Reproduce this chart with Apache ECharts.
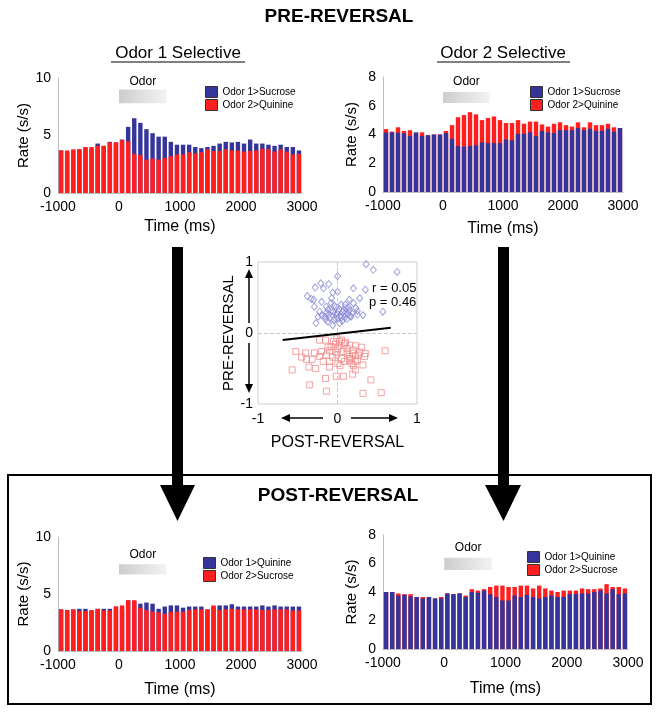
<!DOCTYPE html>
<html><head><meta charset="utf-8">
<script src="https://cdn.jsdelivr.net/npm/echarts@6/dist/echarts.min.js"></script>
<style>html,body{margin:0;padding:0;background:#fff}#c{width:656px;height:712px}</style>
</head><body><div id="c"></div>
<script>
// ---- data ----
const bins = [-950,-850,-750,-650,-550,-450,-350,-250,-150,-50,50,150,250,350,450,550,650,750,850,950,1050,1150,1250,1350,1450,1550,1650,1750,1850,1950,2050,2150,2250,2350,2450,2550,2650,2750,2850,2950];
const xTicks = [-1000, 0, 1000, 2000, 3000];
const odorWindow = [0, 780];

// Pre-reversal, Odor 1 selective
const p1Odor1Sucrose = [3.7,3.6,3.7,3.8,3.9,3.8,4.3,4.1,4.45,4.4,4.65,5.75,6.5,6.1,5.55,5.2,4.9,4.9,4.45,4.2,4.2,4.2,4.0,3.9,4.0,4.1,4.3,4.45,4.4,4.45,4.3,4.65,4.3,4.3,4.2,4.1,4.2,4.0,4.0,3.7];
const p1Odor2Quinine = [3.7,3.7,3.8,3.8,4.0,4.0,4.1,4.1,4.4,4.4,4.6,4.5,3.4,3.3,2.9,3.0,2.9,3.05,3.2,3.35,3.35,3.55,3.45,3.55,3.8,3.65,3.65,3.8,3.7,3.7,3.6,3.65,3.7,3.85,3.8,3.6,3.8,3.6,3.35,3.4];
// Pre-reversal, Odor 2 selective
const p2Odor1Sucrose = [4.13,4.15,4.13,4.08,3.9,4.15,3.9,3.95,4.0,4.0,4.1,3.7,3.2,3.15,3.2,3.25,3.45,3.4,3.4,3.4,3.65,3.6,4.05,4.05,4.15,3.9,4.25,4.15,4.1,4.3,4.3,4.3,4.45,4.3,4.4,4.25,4.25,4.4,4.2,4.45];
const p2Odor2Quinine = [4.38,4.2,4.5,4.25,4.3,4.1,4.15,3.95,4.0,4.0,4.25,4.65,5.2,5.35,5.55,5.4,5.0,5.15,5.25,5.0,4.8,4.8,5.0,4.75,4.9,4.9,4.7,4.55,4.75,4.85,4.65,4.55,4.85,4.5,4.85,4.65,4.65,4.75,4.5,4.45];
// Post-reversal, Odor 1 selective
const p3Odor1Quinine = [3.65,3.6,3.65,3.7,3.7,3.5,3.7,3.7,3.7,3.9,3.7,4.45,4.4,4.15,4.25,4.15,3.7,3.9,4.0,4.0,3.8,3.9,3.9,3.9,3.65,3.9,4.0,4.0,4.1,3.9,3.9,3.9,3.9,4.0,3.9,4.0,3.9,3.9,3.9,3.9];
const p3Odor2Sucrose = [3.65,3.6,3.65,3.5,3.5,3.6,3.7,3.55,3.55,3.9,4.0,4.45,4.45,3.8,3.6,3.45,3.4,3.25,3.45,3.45,3.45,3.6,3.65,3.65,3.65,4.0,3.6,3.65,3.7,3.65,3.65,3.65,3.65,3.6,3.6,3.65,3.65,3.65,3.55,3.55];
// Post-reversal, Odor 2 selective
const p4Odor1Quinine = [4.0,4.0,3.75,3.8,3.7,3.65,3.55,3.65,3.55,3.55,3.9,3.85,3.9,3.65,4.0,3.95,4.1,3.85,3.65,3.4,3.4,3.75,3.65,3.8,3.65,3.55,3.65,3.75,3.65,3.65,3.85,3.85,3.9,3.9,4.0,4.1,3.9,4.2,3.85,3.9];
const p4Odor2Sucrose = [4.0,4.0,3.9,3.85,3.85,3.65,3.65,3.65,3.55,3.65,3.9,3.85,3.9,3.75,4.2,4.1,4.2,4.35,4.45,4.45,4.35,4.35,4.45,4.45,4.25,4.45,4.25,4.1,4.0,4.1,4.1,4.1,4.25,4.2,4.2,4.25,4.55,4.35,4.35,4.25];

// Scatter: selectivity pre vs post reversal
const odor1Cells = [[0.36,0.97],[0.45,0.89],[0.75,0.86],[0.0,0.80],[-0.21,0.70],[-0.11,0.69],[-0.28,0.64],[-0.175,0.63],[0.20,0.63],[0.35,0.61],[0.0,0.58],[-0.06,0.57],[-0.38,0.52],[-0.30,0.47],[-0.20,0.44],[-0.075,0.49],[0.15,0.47],[0.28,0.49],[0.046,0.40],[-0.29,0.37],[-0.14,0.37],[-0.04,0.39],[0.02,0.34],[0.11,0.35],[0.15,0.32],[0.23,0.35],[-0.225,0.30],[-0.14,0.28],[-0.08,0.31],[-0.017,0.26],[0.067,0.29],[0.13,0.26],[0.25,0.26],[0.32,0.25],[-0.10,0.21],[0.0,0.21],[0.09,0.22],[0.17,0.23],[-0.27,0.14],[-0.12,0.16],[-0.06,0.11],[0.025,0.14],[0.57,0.30],[-0.16,0.23],[-0.245,0.23],[-0.04,0.18],[-0.05,0.30],[0.0,0.27],[0.05,0.22],[-0.12,0.33],[0.08,0.32],[0.12,0.20],[-0.02,0.36],[0.03,0.24],[0.18,0.28],[-0.20,0.25],[0.10,0.40],[-0.08,0.42],[0.20,0.42],[0.06,0.17],[-0.15,0.19],[0.14,0.36],[-0.03,0.21],[0.25,0.31],[-0.33,0.48],[0.09,0.27],[-0.11,0.26],[0.01,0.31],[0.16,0.24]];
const odor2Cells = [[-0.225,-0.10],[-0.15,-0.10],[-0.008,-0.08],[0.025,-0.12],[-0.025,-0.155],[0.09,-0.15],[0.15,-0.17],[0.23,-0.18],[0.30,-0.20],[-0.08,-0.19],[0.004,-0.22],[-0.10,-0.25],[-0.525,-0.26],[-0.40,-0.28],[-0.29,-0.28],[-0.20,-0.26],[0.12,-0.28],[0.19,-0.29],[0.35,-0.29],[0.60,-0.25],[-0.14,-0.31],[-0.008,-0.31],[0.15,-0.33],[0.225,-0.32],[0.34,-0.33],[-0.39,-0.37],[-0.32,-0.37],[-0.225,-0.33],[-0.10,-0.40],[0.004,-0.43],[0.09,-0.40],[0.15,-0.39],[0.225,-0.40],[0.32,-0.45],[-0.57,-0.52],[-0.36,-0.48],[-0.275,-0.50],[-0.10,-0.48],[0.03,-0.46],[0.20,-0.46],[0.225,-0.52],[0.19,-0.58],[-0.15,-0.64],[-0.017,-0.61],[0.075,-0.61],[0.42,-0.66],[-0.35,-0.73],[-0.14,-0.82],[0.32,-0.85],[0.55,-0.84],[-0.45,-0.34],[0.26,-0.31],[0.05,-0.10],[0.10,-0.13],[-0.05,-0.12],[0.02,-0.18],[0.12,-0.22],[0.20,-0.24],[-0.12,-0.20],[0.07,-0.26],[-0.02,-0.27],[0.16,-0.36],[0.05,-0.36],[-0.06,-0.34],[0.25,-0.38],[0.18,-0.43],[0.28,-0.27],[-0.18,-0.40]];
const regressionLine = [[-0.69,-0.10],[0.67,0.075]];
const statsText = ['r = 0.05', 'p = 0.46'];

// ---- styling ----
const FONT = '"Liberation Sans", Arial, sans-serif';
const BLUE = '#34349a';
const RED = '#ff1f1f';
const odorGrad = new echarts.graphic.LinearGradient(0,0,1,0,[{offset:0,color:'#cdcdcd'},{offset:1,color:'#f3f3f3'}]);

const panels = [
  {grid:{left:58, top:78, width:244, height:115}, ymax:10, yint:5, odorY:[7.8,9.0], labelDist:2, nameGapX:26,
   s:[{name:'Odor 1>Sucrose', data:p1Odor1Sucrose, color:BLUE},{name:'Odor 2>Quinine', data:p1Odor2Quinine, color:RED}],
   legendPos:{left:205, top:86}},
  {grid:{left:383, top:77, width:240, height:115}, ymax:8, yint:2, odorY:[6.2,6.95], labelDist:4, nameGapX:29,
   s:[{name:'Odor 2>Quinine', data:p2Odor2Quinine, color:RED},{name:'Odor 1>Sucrose', data:p2Odor1Sucrose, color:BLUE}],
   legend:['Odor 1>Sucrose','Odor 2>Quinine'], legendPos:{left:530, top:86}},
  {grid:{left:58, top:537, width:244, height:114}, ymax:10, yint:5, odorY:[6.7,7.6], labelDist:4, nameGapX:31,
   s:[{name:'Odor 1>Quinine', data:p3Odor1Quinine, color:BLUE},{name:'Odor 2>Sucrose', data:p3Odor2Sucrose, color:RED}],
   legendPos:{left:203, top:557}},
  {grid:{left:383, top:535, width:245, height:114}, ymax:8, yint:2, odorY:[5.55,6.4], labelDist:4, nameGapX:32,
   s:[{name:'Odor 2>Sucrose', data:p4Odor2Sucrose, color:RED},{name:'Odor 1>Quinine', data:p4Odor1Quinine, color:BLUE}],
   legend:['Odor 1>Quinine','Odor 2>Sucrose'], legendPos:{left:527, top:551}}
];

const grids = [], xAxes = [], yAxes = [], series = [], legends = [];
panels.forEach((p, i) => {
  grids.push(Object.assign({containLabel:false}, p.grid));
  xAxes.push({type:'value', gridIndex:i, min:xTicks[0], max:xTicks[xTicks.length-1], interval:1000,
    axisLine:{show:true, onZero:false, lineStyle:{color:'#bdbdbd'}}, axisTick:{show:false}, splitLine:{show:false},
    axisLabel:{fontSize:14, color:'#000', margin:7, fontFamily:FONT, formatter:v=>String(v)},
    name:'Time (ms)', nameLocation:'middle', nameGap:p.nameGapX, nameTextStyle:{fontSize:16, color:'#000', fontFamily:FONT}});
  yAxes.push({type:'value', gridIndex:i, min:0, max:p.ymax, interval:p.yint,
    axisLine:{show:true, onZero:false, lineStyle:{color:'#bdbdbd'}}, axisTick:{show:false}, splitLine:{show:false},
    axisLabel:{fontSize:14, color:'#000', margin:7, fontFamily:FONT},
    name:'Rate (s/s)', nameLocation:'middle', nameGap:24, nameRotate:90, nameTextStyle:{fontSize:15, color:'#000', fontFamily:FONT}});
  p.s.forEach((s, k) => {
    const ser = {type:'bar', name:s.name, xAxisIndex:i, yAxisIndex:i, barWidth:4.4, barGap:'-100%',
      data: bins.map((b, j) => [b, s.data[j]]), itemStyle:{color:s.color}, silent:true, animation:false};
    if (k === 0) {
      ser.markArea = {silent:true, itemStyle:{color:odorGrad},
        label:{show:true, position:'top', formatter:'Odor', fontSize:12, color:'#000', distance:p.labelDist, fontFamily:FONT},
        data:[[{xAxis:odorWindow[0], yAxis:p.odorY[0]},{xAxis:odorWindow[1], yAxis:p.odorY[1]}]]};
    }
    series.push(ser);
  });
  legends.push(Object.assign({data: p.legend || p.s.map(s=>s.name), orient:'vertical', itemWidth:12, itemHeight:11, itemGap:1,
    icon:'rect', padding:0, selectedMode:false, itemStyle:{borderColor:'#333', borderWidth:1},
    textStyle:{fontSize:10, color:'#000', fontFamily:FONT}}, p.legendPos));
});

// scatter grid
grids.push({left:258, top:262, width:159, height:142, show:true, borderColor:'#cfcfcf', borderWidth:1, backgroundColor:'#fff'});
xAxes.push({type:'value', gridIndex:4, min:-1, max:1, interval:1, axisLine:{show:false, onZero:false}, axisTick:{show:false}, splitLine:{show:false},
  axisLabel:{fontSize:14, color:'#000', margin:8, fontFamily:FONT},
  name:'POST-REVERSAL', nameLocation:'middle', nameGap:31, nameTextStyle:{fontSize:16, color:'#000', fontFamily:FONT}});
yAxes.push({type:'value', gridIndex:4, min:-1, max:1, interval:1, axisLine:{show:false, onZero:false}, axisTick:{show:false}, splitLine:{show:false},
  axisLabel:{fontSize:14, color:'#000', margin:5, fontFamily:FONT},
  name:'PRE-REVERSAL', nameLocation:'middle', nameGap:18, nameRotate:90, nameTextStyle:{fontSize:15, color:'#000', fontFamily:FONT}});
series.push({type:'scatter', xAxisIndex:4, yAxisIndex:4, data:odor1Cells, symbol:'diamond', symbolSize:[6,7], silent:true, animation:false,
  itemStyle:{color:'rgba(255,255,255,0)', borderColor:'#8b8bd6', borderWidth:1},
  markLine:{silent:true, symbol:'none', label:{show:false}, lineStyle:{color:'#c8c8c8', type:'dashed', width:1},
    data:[{xAxis:0},{yAxis:0}]}});
series.push({type:'scatter', xAxisIndex:4, yAxisIndex:4, data:odor2Cells, symbol:'rect', symbolSize:6, silent:true, animation:false,
  itemStyle:{color:'rgba(255,255,255,0)', borderColor:'#f08d8d', borderWidth:1}});
series.push({type:'line', xAxisIndex:4, yAxisIndex:4, data:regressionLine, symbol:'none', silent:true, animation:false,
  lineStyle:{color:'#000', width:2}, z:5});

function txt(text, x, y, font, align) {
  return {type:'text', silent:true, z:20, style:{text:text, x:x, y:y, font:font, fill:'#000',
    textAlign:align||'center', align:align||'center', textVerticalAlign:'middle', verticalAlign:'middle'}};
}
function arrowHead(pts){ return {type:'polygon', silent:true, z:20, shape:{points:pts}, style:{fill:'#000'}}; }
function seg(x1,y1,x2,y2,w){ return {type:'line', silent:true, z:20, shape:{x1,y1,x2,y2}, style:{stroke:'#000', lineWidth:w}}; }

const graphics = [
  txt('PRE-REVERSAL', 339, 17, 'bold 19px '+FONT),
  txt('Odor 1 Selective', 178, 53, '17px '+FONT),
  seg(111, 62, 245, 62, 1),
  txt('Odor 2 Selective', 503, 53, '17px '+FONT),
  seg(437, 62, 570, 62, 1),
  {type:'rect', silent:true, z:10, shape:{x:8, y:475, width:643, height:229}, style:{fill:'none', stroke:'#000', lineWidth:2}},
  txt('POST-REVERSAL', 338, 496, 'bold 19px '+FONT),
  {type:'rect', silent:true, z:20, shape:{x:172, y:247, width:11, height:239}, style:{fill:'#000'}},
  arrowHead([[160,485],[195,485],[177.5,521]]),
  {type:'rect', silent:true, z:20, shape:{x:498, y:247, width:11, height:239}, style:{fill:'#000'}},
  arrowHead([[485,485],[521,485],[503.5,521]]),
  // scatter axis arrows
  seg(249, 323, 249, 277, 1.5), arrowHead([[245,278],[253,278],[249,269]]),
  seg(249, 343, 249, 384, 1.5), arrowHead([[245,384],[253,384],[249,393]]),
  seg(323, 418, 290, 418, 1.5), arrowHead([[290,414],[290,422],[281,418]]),
  seg(351, 418, 389, 418, 1.5), arrowHead([[389,414],[389,422],[398,418]]),
  txt(statsText[0], 372, 288, '13px '+FONT, 'left'),
  txt(statsText[1], 369, 302, '13px '+FONT, 'left')
];

const chart = echarts.init(document.getElementById('c'), null, {renderer:'canvas'});
chart.setOption({
  animation:false,
  backgroundColor:'#fff',
  textStyle:{fontFamily:FONT},
  grid:grids, xAxis:xAxes, yAxis:yAxes, legend:legends, series:series, graphic:graphics
});
</script></body></html>
